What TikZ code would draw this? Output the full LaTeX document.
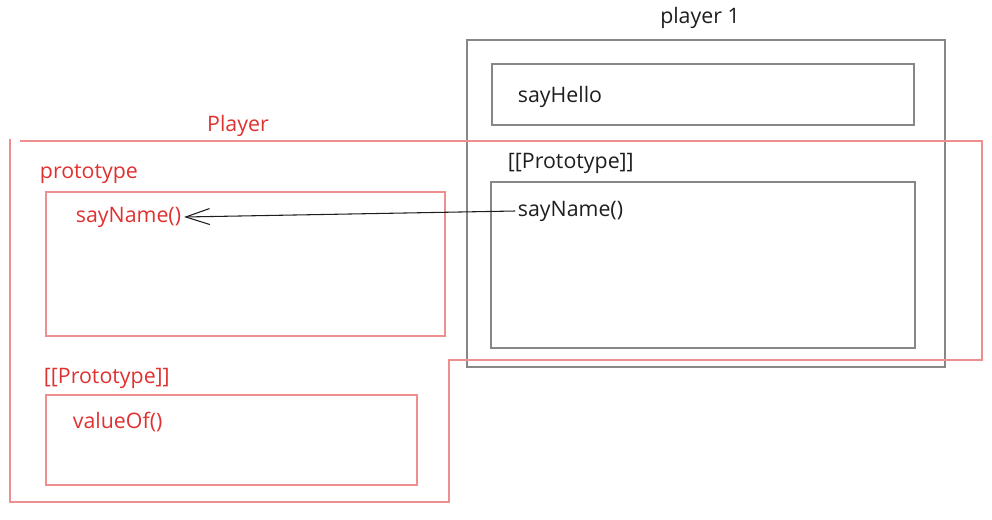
\documentclass[tikz,border=0pt]{standalone}
\usepackage{fontspec}
\setmainfont{Open Sans}
\usetikzlibrary{arrows.meta}
\definecolor{xred}{HTML}{E03131}
\definecolor{xgray}{HTML}{878787}
\definecolor{xink}{HTML}{1E1E1E}

\begin{document}
\begin{tikzpicture}[x=0.75pt,y=-0.75pt,
  >={Straight Barb[length=18pt,width=12pt]},
  every node/.append style={font=\fontsize{16}{19}\selectfont}]
  \tikzstyle{box} = [draw=xgray,line width=1.3pt]
  \tikzstyle{redbox} = [draw=xred!55,line width=1.1pt]
  \tikzstyle{word} = [color=xink,anchor=west,inner sep=2pt]
  \tikzstyle{redword} = [word,color=xred]
  \useasboundingbox (0,0) rectangle (992,519);
  % player 1
  \draw[box] (467,40) rectangle (945,367);
  \draw[box] (492,64) rectangle (914,125);
  \draw[box] (491,182) rectangle (915,348);
  \node (p1) [word,anchor=center] at (700,18) {player 1};
  \node (p1hello) [word] at (515,97) {sayHello};
  \node (p1proto) [word] at (505,163) {[[Prototype]]};
  \node (p1name) [word] at (515,211) {sayName()};
  % Player
  \draw[redbox] (20,141) -- (982,141) -- (982,360) -- (449,360) -- (449,502) -- (10,502) -- (10,139);
  \draw[redbox] (46,192) rectangle (445,336);
  \draw[redbox] (46,395) rectangle (417,485);
  \node (pl) [redword,anchor=center] at (238,126) {Player};
  \node (plproto) [redword] at (37,174) {prototype};
  \node (plname) [redword] at (73,217) {sayName()};
  \node (plobj) [redword] at (41,378) {[[Prototype]]};
  \node (plvalue) [redword] at (70,422) {valueOf()};
  \draw[->,xink,line width=0.8pt] (p1name.west) -- (plname.east);
\end{tikzpicture}
\end{document}
